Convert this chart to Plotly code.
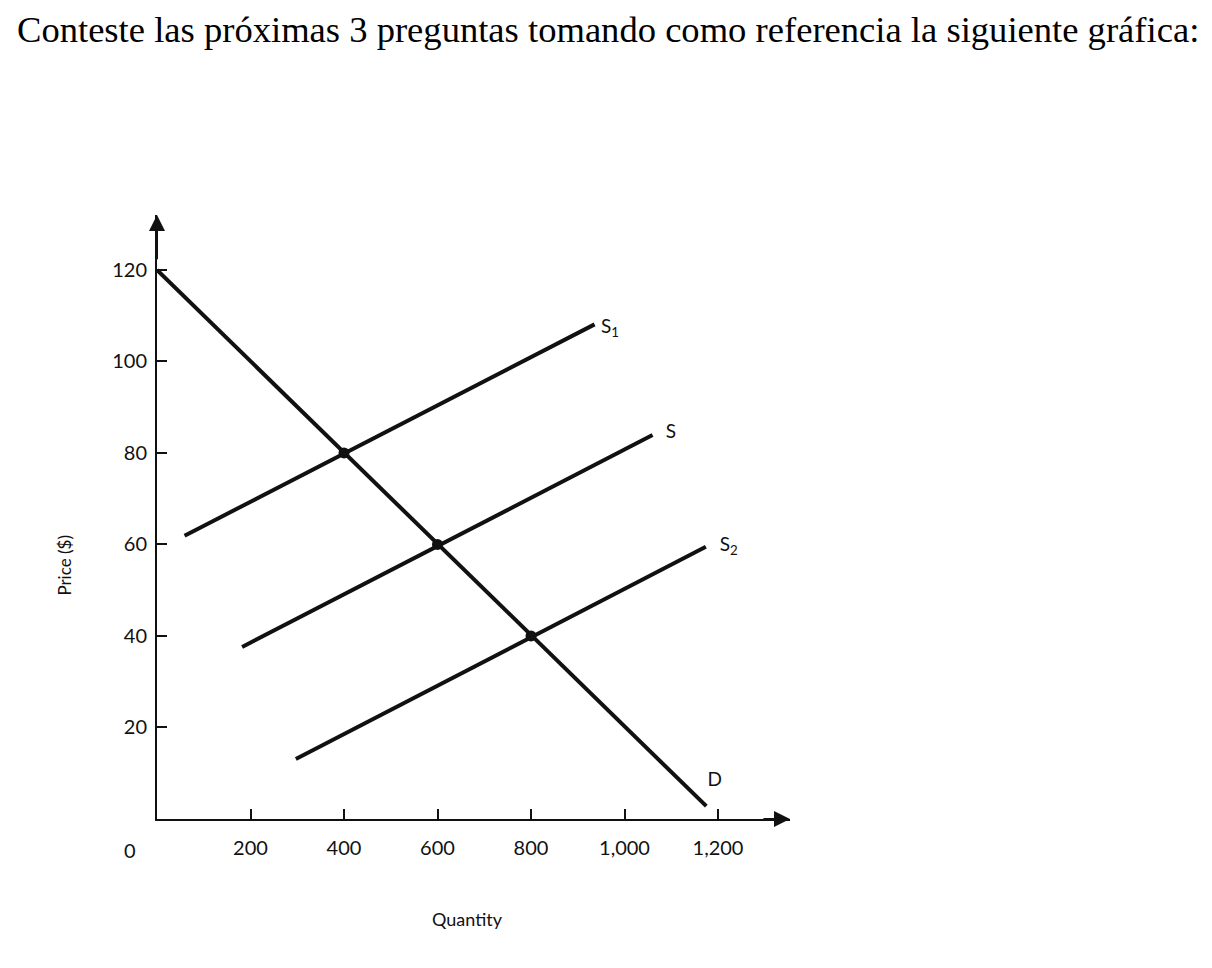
import plotly.graph_objects as go

# ---- data ----
x_tickvals = [200, 400, 600, 800, 1000, 1200]
x_ticktext = ["200", "400", "600", "800", "1,000", "1,200"]
y_tickvals = [20, 40, 60, 80, 100, 120]
y_ticktext = ["20", "40", "60", "80", "100", "120"]

d_q = [0, 1175]
d_p = [120, 2.8]
s1_q = [59, 936]
s1_p = [61.9, 108.1]
s_q = [182, 1060]
s_p = [37.6, 83.9]
s2_q = [297, 1174]
s2_p = [13.1, 59.5]

eq_q = [400, 600, 800]
eq_p = [80, 60, 40]

label_names = ["S<sub>1</sub>", "S", "S<sub>2</sub>", "D"]
label_q = [969, 1099, 1223, 1193]
label_p = [107.3, 84.4, 59.7, 8.3]

X_MAX = 1354
Y_MAX = 132

FONT = "Lato"

fig = go.Figure()
for q, p in [(d_q, d_p), (s1_q, s1_p), (s_q, s_p), (s2_q, s2_p)]:
    fig.add_trace(go.Scatter(x=q, y=p, mode="lines",
                             line=dict(color="#111111", width=4),
                             showlegend=False, hoverinfo="skip"))
fig.add_trace(go.Scatter(x=eq_q, y=eq_p, mode="markers",
                         marker=dict(color="#111111", size=11),
                         showlegend=False, hoverinfo="skip"))
fig.add_trace(go.Scatter(x=label_q, y=label_p, mode="text", text=label_names,
                         textfont=dict(family=FONT, size=19, color="#111111"),
                         showlegend=False, hoverinfo="skip"))

annotations = [
    # axis arrows
    dict(x=X_MAX, y=0, ax=X_MAX - 60, ay=0, xref="x", yref="y", axref="x", ayref="y",
         text="", showarrow=True, arrowhead=2, arrowsize=1.6, arrowwidth=2,
         arrowcolor="#111111"),
    dict(x=0, y=Y_MAX, ax=0, ay=Y_MAX - 10, xref="x", yref="y", axref="x", ayref="y",
         text="", showarrow=True, arrowhead=2, arrowsize=1.6, arrowwidth=2,
         arrowcolor="#111111"),
    dict(x=-0.0553, y=-0.074, xref="paper", yref="paper", text="0", showarrow=False,
         font=dict(family=FONT, size=20, color="#111111")),
    dict(x=0.4905, y=-0.187, xref="paper", yref="paper", text="Quantity",
         showarrow=False, font=dict(family=FONT, size=18, color="#111111")),
    dict(x=-0.165, y=0.4196, xref="paper", yref="paper", text="Price ($)",
         showarrow=False, textangle=-90,
         font=dict(family=FONT, size=17, color="#111111")),
    dict(x=-0.2245, y=1.307, xref="paper", yref="paper", xanchor="left",
         yanchor="middle",
         text="Conteste las próximas 3 preguntas tomando como referencia la siguiente gráfica:",
         showarrow=False,
         font=dict(family="Liberation Serif", size=36.6, color="#000000")),
]

fig.update_layout(
    width=1212, height=968,
    margin=dict(l=157, r=1212 - 790, t=215, b=968 - 819, pad=0),
    paper_bgcolor="white", plot_bgcolor="white",
    annotations=annotations,
    xaxis=dict(range=[0, X_MAX], showgrid=False, zeroline=False,
               showline=True, linecolor="#111111", linewidth=2,
               tickvals=x_tickvals, ticktext=x_ticktext,
               ticks="inside", ticklen=10, tickwidth=2, tickcolor="#111111",
               ticklabelstandoff=10,
               tickfont=dict(family=FONT, size=20, color="#111111")),
    yaxis=dict(range=[0, Y_MAX], showgrid=False, zeroline=False,
               showline=True, linecolor="#111111", linewidth=2,
               tickvals=y_tickvals, ticktext=y_ticktext,
               ticks="inside", ticklen=10, tickwidth=2, tickcolor="#111111",
               ticklabelstandoff=4,
               tickfont=dict(family=FONT, size=20, color="#111111")),
)

fig.write_html("out.html")
